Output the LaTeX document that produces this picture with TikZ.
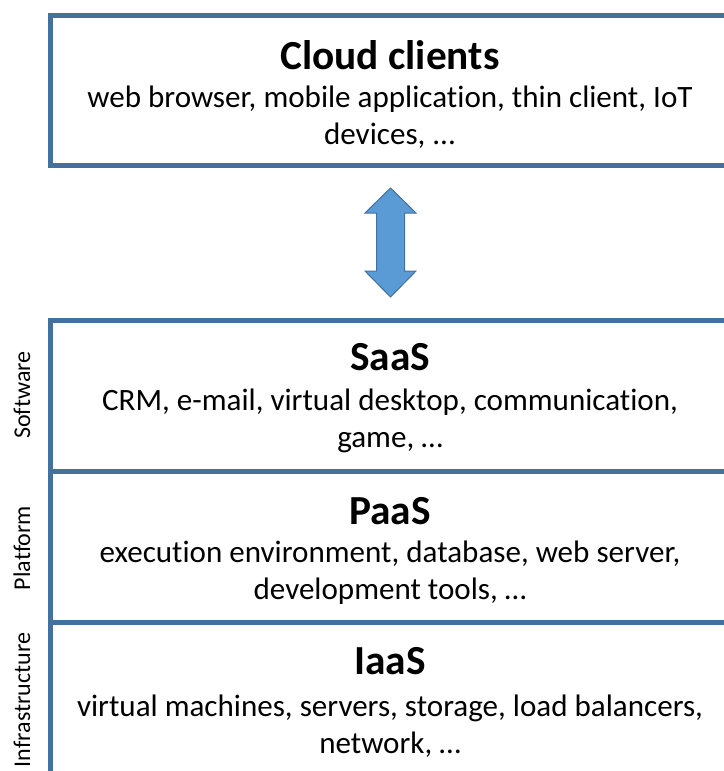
\documentclass[tikz,border=0pt]{standalone}
\usepackage{fontspec}
\setmainfont[Ligatures=NoCommon]{Carlito}
\definecolor{layerline}{RGB}{65,113,156}
\definecolor{arrowfill}{RGB}{91,155,213}
\tikzset{
  title/.style={font=\fontsize{31}{37}\selectfont\bfseries, inner sep=0pt},
  desc/.style={font=\fontsize{23.3}{27.75}\selectfont, align=center, inner sep=0pt},
  side/.style={font=\fontsize{18}{21}\selectfont, rotate=90, inner sep=0pt},
  frame/.style={draw=layerline, line width=3.75pt},
  link/.style={draw=layerline, fill=arrowfill, line width=0.75pt, line join=miter}
}
\begin{document}
\begin{tikzpicture}[x=0.75pt,y=-0.75pt]
  \useasboundingbox (0,0) rectangle (724,771);
  \clip (0,0) rectangle (724,771);
  % clients box
  \draw [frame] (50,15) rectangle (760,165);
  \node [title] (clients) at (390,55) {Cloud clients};
  \node [desc] (clientsdesc) at (390,117) {web browser, mobile application, thin client, IoT\\devices, ...};
  % double arrow
  \draw [link] (390.5,188) -- ++(25.5,25) -- ++(-11.5,0) -- ++(0,58) -- ++(11.5,0)
    -- (390.5,297) -- ++(-25.5,-26) -- ++(11.5,0) -- ++(0,-58) -- ++(-11.5,0) -- cycle;
  % stack
  \draw [frame] (760,320) -| (50,790);
  \draw [frame] (50,471) -- (760,471);
  \draw [frame] (50,622) -- (760,622);
  \node [title] (saas) at (390,357) {SaaS};
  \node [desc] (saasdesc) at (390,421) {CRM, e-mail, virtual desktop, communication,\\game, …};
  \node [title] (paas) at (390,511) {PaaS};
  \node [desc] (paasdesc) at (390,573) {execution environment, database, web server,\\development tools, …};
  \node [title] (iaas) at (390,661) {IaaS};
  \node [desc] (iaasdesc) at (390,726) {virtual machines, servers, storage, load balancers,\\network, …};
  \node [side] (software) at (22,395) {Software};
  \node [side] (platform) at (22,548) {Platform};
  \node [side] (infra) at (22,700) {Infrastructure};
\end{tikzpicture}
\end{document}
